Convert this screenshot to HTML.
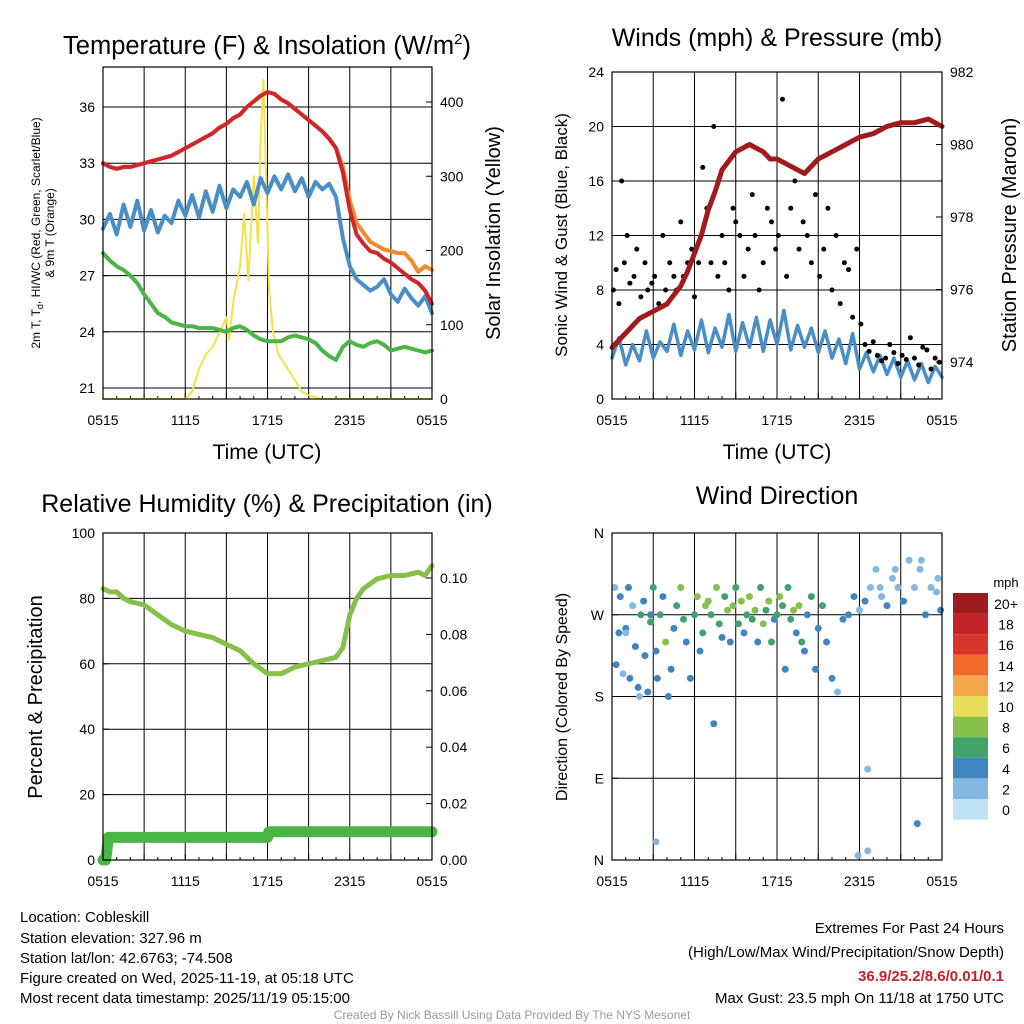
<!DOCTYPE html>
<html><head><meta charset="utf-8"><style>
body{margin:0;background:#fff;}
svg{display:block;font-family:"Liberation Sans",sans-serif;}
</style></head><body>
<svg id="s" width="1024" height="1024" viewBox="0 0 1024 1024" xmlns="http://www.w3.org/2000/svg">
<g id="g"></g>
<text x="267" y="54" font-size="25.5" text-anchor="middle">Temperature (F) &amp; Insolation (W/m<tspan font-size="15" dy="-10">2</tspan><tspan dy="10">)</tspan></text>
<text x="777" y="46" font-size="25" text-anchor="middle">Winds (mph) &amp; Pressure (mb)</text>
<text x="267" y="512" font-size="25" text-anchor="middle">Relative Humidity (%) &amp; Precipitation (in)</text>
<text x="777" y="504" font-size="25" text-anchor="middle">Wind Direction</text>
<text x="267" y="459" font-size="21" text-anchor="middle">Time (UTC)</text>
<text x="777" y="459" font-size="21" text-anchor="middle">Time (UTC)</text>
<text transform="translate(40,233) rotate(-90)" font-size="12" text-anchor="middle">2m T, T<tspan font-size="9" dy="3">d</tspan><tspan dy="-3">, HI/WC (Red, Green, Scarlet/Blue)</tspan></text>
<text transform="translate(54,233) rotate(-90)" font-size="12" text-anchor="middle">&amp; 9m T (Orange)</text>
<text transform="translate(500,233) rotate(-90)" font-size="20" text-anchor="middle">Solar Insolation (Yellow)</text>
<text transform="translate(567,235) rotate(-90)" font-size="17" text-anchor="middle">Sonic Wind &amp; Gust (Blue, Black)</text>
<text transform="translate(1016,235) rotate(-90)" font-size="20" text-anchor="middle">Station Pressure (Maroon)</text>
<text transform="translate(42,697) rotate(-90)" font-size="20" text-anchor="middle">Percent &amp; Precipitation</text>
<text transform="translate(567,697) rotate(-90)" font-size="16" text-anchor="middle">Direction (Colored By Speed)</text>
<g font-size="15">
<text x="20" y="922">Location: Cobleskill</text>
<text x="20" y="943">Station elevation: 327.96 m</text>
<text x="20" y="963">Station lat/lon: 42.6763; -74.508</text>
<text x="20" y="983">Figure created on Wed, 2025-11-19, at 05:18 UTC</text>
<text x="20" y="1003">Most recent data timestamp: 2025/11/19 05:15:00</text>
</g>
<g font-size="15" text-anchor="end">
<text x="1004" y="933">Extremes For Past 24 Hours</text>
<text x="1004" y="957">(High/Low/Max Wind/Precipitation/Snow Depth)</text>
<text x="1004" y="981" fill="#c8202a" font-weight="bold">36.9/25.2/8.6/0.01/0.1</text>
<text x="1004" y="1003">Max Gust: 23.5 mph On 11/18 at 1750 UTC</text>
</g>
<text x="512" y="1019" font-size="12" fill="#999" text-anchor="middle">Created By Nick Bassill Using Data Provided By The NYS Mesonet</text>
</svg>
<script>
const xTickLabels=["0515","1115","1715","2315","0515"];
const tempTicks=[21,24,27,30,33,36];
const solarTicks=[0,100,200,300,400];
const windTicks=[0,4,8,12,16,20,24];
const presTicks=[974,976,978,980,982];
const rhTicks=[0,20,40,60,80,100];
const precTicks=[0.00,0.02,0.04,0.06,0.08,0.10];
const dirLabels=["N","E","S","W","N"];
const hoursT=[0,0.5,1,1.5,2,2.5,3,3.5,4,4.5,5,5.5,6,6.5,7,7.5,8,8.5,9,9.5,10,10.5,11,11.5,12,12.5,13,13.5,14,14.5,15,15.5,16,16.5,17,17.5,18,18.5,19,19.5,20,20.5,21,21.5,22,22.5,23,23.5,24];
const tempRed=[33,32.8,32.7,32.8,32.8,32.9,33,33.1,33.2,33.3,33.4,33.6,33.8,34,34.2,34.4,34.6,34.9,35.1,35.4,35.6,36,36.3,36.6,36.8,36.7,36.4,36.2,35.9,35.6,35.3,35,34.7,34.3,33.8,32.5,30.5,29.2,28.7,28.3,28.2,27.9,27.7,27.4,27.1,26.8,26.6,26.2,25.5];
const tempOrange=[33,32.8,32.7,32.8,32.8,32.9,33,33.1,33.2,33.3,33.4,33.6,33.8,34,34.2,34.4,34.6,34.9,35.1,35.4,35.6,36,36.3,36.6,36.8,36.7,36.4,36.2,35.9,35.6,35.3,35,34.7,34.3,33.8,32.8,31,29.8,29.3,28.8,28.6,28.4,28.3,28.2,28.2,27.8,27.2,27.5,27.3];
const tempBlue=[29.5,30.3,29.2,30.8,29.6,31,29.4,30.5,29.3,30.2,29.8,31,30.2,31.3,30.1,31.5,30.4,31.8,30.6,31.6,31.2,32,30.8,32.2,31.4,32.3,31.6,32.4,31.5,32.2,31.2,32,31.6,31.9,31.2,29,27.5,26.8,26.5,26.2,26.4,26.8,26,25.6,26.3,25.8,25.4,25.9,25];
const tempGreen=[28.2,27.8,27.5,27.3,27,26.6,26,25.5,25,24.8,24.5,24.4,24.3,24.3,24.2,24.2,24.2,24.1,24,24.2,24.3,24.1,23.8,23.6,23.5,23.5,23.5,23.7,23.8,23.7,23.6,23.4,23,22.7,22.5,23.2,23.5,23.3,23.2,23.4,23.5,23.3,23,23.1,23.2,23.1,23,22.9,23];
const hoursS=[0,6,6.5,7,7.5,8,8.5,9,9.2,9.5,10,10.3,10.6,11,11.3,11.5,11.7,11.9,12.1,12.4,12.8,13.5,14,14.5,15,16,17,24];
const solar=[0,0,10,40,60,70,90,110,80,130,180,250,160,300,210,350,430,300,150,90,60,40,25,10,5,0,0,0];
const hoursP=[0,1,2,3,4,5,5.5,6,6.5,7,7.5,8,9,10,11,11.5,12,13,14,15,16,17,18,19,20,21,22,23,24];
const pres=[974.4,974.8,975.2,975.4,975.6,976.1,976.5,977,977.5,978.2,978.7,979.3,979.8,980,979.8,979.6,979.6,979.4,979.2,979.6,979.8,980,980.2,980.3,980.5,980.6,980.6,980.7,980.5];
const hoursW=[0,0.5,1,1.5,2,2.5,3,3.5,4,4.5,5,5.5,6,6.5,7,7.5,8,8.5,9,9.5,10,10.5,11,11.5,12,12.5,13,13.5,14,14.5,15,15.5,16,16.5,17,17.5,18,18.5,19,19.5,20,20.5,21,21.5,22,22.5,23,23.5,24];
const sonic=[3,4.5,2.5,4,2.8,5,3,4.2,3.5,5.5,3.2,5,3.6,5.8,3.4,5.2,3.8,6.2,3.5,5.6,3.8,6,3.5,5.8,4,6.5,3.6,5.4,3.8,5.2,3.4,5,3,4.4,2.6,4.8,2.2,3.4,2,3.2,1.8,3,1.6,2.8,1.4,2.6,1.2,2.4,1.6];
const gustH=[0.1,0.3,0.5,0.7,0.9,1.1,1.3,1.6,1.8,2.1,2.4,2.6,2.9,3.1,3.4,3.7,3.9,4.2,4.5,4.7,5,5.2,5.5,5.8,6,6.3,6.6,6.9,7.2,7.4,7.7,8,8.2,8.5,8.8,9,9.3,9.6,9.9,10.2,10.4,10.7,11,11.3,11.6,11.9,12.1,12.4,12.7,13,13.3,13.6,13.9,14.2,14.5,14.8,15.1,15.4,15.7,16,16.3,16.6,16.9,17.2,17.5,17.8,18.1,18.4,18.7,19,19.3,19.6,19.9,20.2,20.5,20.8,21.1,21.4,21.7,22,22.3,22.6,22.9,23.2,23.5,23.8];
const gust=[8,9.5,7,16,10,12,8.5,9,11,7.5,10,8,8.5,9,7,12,8,10,9,8,13,9,10,11,7.5,10,17,14,10,20,9,12,10,8,14,13,12,9,11,15,12,8,10,14,13,11,12,22,9,14,16,11,13,12,10,15,9,11,14,8,12,7,10,9.5,6,11,5.5,4,3.5,4.2,3.2,2.8,3,4,3.4,2.6,3.2,2.9,4.5,3,2.5,3.8,3.6,2.2,3,2.7];
const hoursRH=[0,0.5,1,1.5,2,3,4,5,6,7,8,9,10,11,12,13,14,15,16,17,17.5,18,18.5,19,20,21,22,23,23.5,24];
const rh=[83,82,82,80,79,78,75,72,70,69,68,66,64,60,57,57,59,60,61,62,65,75,80,83,86,87,87,88,87,90];
const hoursPr=[0,0.2,0.4,12,12.1,24];
const precip=[0,0,0.008,0.008,0.01,0.01];
const dirH=[0.2,0.3,0.5,0.6,0.8,1,1.2,1.3,1.5,1.7,1.9,2.1,2.3,2.4,2.6,2.8,3,3.2,3.3,3.5,3.7,3.9,4.1,4.3,4.5,4.7,5,5.2,5.4,5.7,6,6.2,6.4,6.6,6.8,7,7.2,7.4,7.6,7.8,8,8.2,8.4,8.6,8.8,9,9.2,9.4,9.6,9.8,10,10.2,10.4,10.6,10.8,11,11.2,11.4,11.6,11.8,12,12.2,12.4,12.6,12.8,13,13.2,13.4,13.6,13.8,14,14.2,14.5,14.8,15,15.3,15.6,16,16.4,16.8,17.2,17.6,18,18.4,18.8,19.2,19.6,20,20.4,20.8,21.2,21.6,22,22.4,22.8,23.2,23.6,23.9,17.9,18.6,19.5,20.6,22.5,23.7,2.8,3.2,18.6,22.2,1.0,2.0];
const dirDeg=[300,215,250,290,205,255,300,200,280,235,190,270,285,225,185,262,300,230,200,270,290,240,180,210,255,280,300,265,240,200,270,290,230,250,280,285,270,150,300,260,245,290,275,240,280,300,260,285,250,270,290,265,275,240,300,260,275,285,240,265,270,290,280,210,300,265,275,250,280,240,230,270,290,210,255,280,240,200,185,265,270,290,275,285,300,320,290,280,310,300,285,330,300,320,270,300,295,275,5,100,300,320,330,310,270,20,10,40,250,180,200,240];
const dirSpd=[2,3,3,4,2,3,4,4,2,3,3,5,4,3,4,6,5,4,3,5,4,7,4,3,4,6,7,5,3,4,6,7,4,5,7,8,6,4,7,5,4,6,8,4,7,6,5,8,4,6,7,5,8,4,6,7,5,8,6,4,5,7,6,4,5,6,8,4,7,5,3,4,6,4,4,5,4,3,2,3,4,3,2,3,1,1,2,3,1,2,3,1,2,2,3,1,2,3,1,2,1,1,2,2,3,1,2,3,2,1,3,2];
const cbColors=["#9b1b1e","#c2242a","#d8342c","#ef6a2c","#f5a54a","#e6de58","#86c04a","#42a36a","#3f86c0","#84b8e2","#bfe3f6"];
const cbLabels=["20+","18","16","14","12","10","8","6","4","2","0"];

const NS="http://www.w3.org/2000/svg";
const G=document.getElementById('g');
function el(t,a,p){const e=document.createElementNS(NS,t);for(const k in a)e.setAttribute(k,a[k]);(p||G).appendChild(e);return e;}
function txt(x,y,s,fs,anc,p){const e=el('text',{x:x,y:y,'font-size':fs,'text-anchor':anc},p);e.textContent=s;return e;}
function xs(b){return h=>b.x0+h*(b.x1-b.x0)/24;}
function frame(b,name){
  const g=el('g',{});
  
  
  for(let i=1;i<8;i++){const x=b.x0+i*(b.x1-b.x0)/8;el('line',{x1:x,x2:x,y1:b.y0,y2:b.y1,stroke:'#000','stroke-width':1},g);}
  const X=xs(b);
  xTickLabels.forEach((s,i)=>{const t=txt(b.x0+i*(b.x1-b.x0)/4,b.y1+26,s,14,'middle',g);});
  for(let i=0;i<=24;i++){const x=X(i);el('line',{x1:x,x2:x,y1:b.y1,y2:b.y1-(i%3?3:6),stroke:'#000'},g);}
  return g;
}
function border(b){el('rect',{x:b.x0,y:b.y0,width:b.x1-b.x0,height:b.y1-b.y0,fill:'none',stroke:'#000','stroke-width':1.2});}
function ylabels(b,vals,Y,lbl,left,grid,name){vals.forEach((v,i)=>{const y=Y(v);if(grid)el('line',{x1:b.x0,x2:b.x1,y1:y,y2:y,stroke:'#000'});
 el('line',{x1:left?b.x0:b.x1,x2:left?b.x0+6:b.x1-6,y1:y,y2:y,stroke:'#000'});
 const t=txt(left?b.x0-8:b.x1+8,y+5,lbl(v,i),14,left?'end':'start');});}
function line(H,V,X,Y,col,w,name){let d='';H.forEach((h,i)=>{d+=(i?'L':'M')+X(h).toFixed(1)+','+Y(V[i]).toFixed(1);});const p=el('path',{d:d,fill:'none',stroke:col,'stroke-width':w,'stroke-linejoin':'round','stroke-linecap':'round'});return p;}

// Panel 1
const b1={x0:103,x1:432,y0:67,y1:399};
frame(b1,'temp-panel');
const X1=xs(b1),Y1=v=>388-(v-21)*(388-107)/15,S1=v=>399-v*(399-102)/400;
ylabels(b1,tempTicks,Y1,v=>v,true,true,'temp-tick-label');
ylabels(b1,solarTicks,S1,v=>v,false,false,'solar-tick-label');
line(hoursS,solar,X1,S1,'#f5e04a',2,'solar-line');
line(hoursT,tempGreen,X1,Y1,'#4ab544',4,'dewpoint-line');
line(hoursT,tempBlue,X1,Y1,'#4a8ec8',4,'windchill-line');
line(hoursT,tempOrange,X1,Y1,'#f08a2c',4,'temp-9m-line');
line(hoursT,tempRed,X1,Y1,'#d0262a',4,'temp-2m-line');
border(b1);

// Panel 2
const b2={x0:612,x1:942,y0:72,y1:399};
frame(b2,'wind-panel');
const X2=xs(b2),Y2=v=>399-v*(399-72)/24,P2=v=>72+(982-v)*(362-72)/8;
ylabels(b2,windTicks,Y2,v=>v,true,true,'wind-tick-label');
ylabels(b2,presTicks,P2,v=>v,false,false,'pres-tick-label');
line(hoursW,sonic,X2,Y2,'#4a8ec8',3.5,'sonic-wind-line');
gust.forEach((g,i)=>{if(gustH[i]===undefined)return;const c=el('circle',{cx:X2(gustH[i]),cy:Y2(g),r:2.5,fill:'#000'});});
line(hoursP,pres,X2,P2,'#a01c1c',5,'pressure-line');
border(b2);

// Panel 3
const b3={x0:103,x1:432,y0:533,y1:860};
frame(b3,'rh-panel');
const X3=xs(b3),Y3=v=>860-v*(860-533)/100,R3=v=>860-v*(860-578)/0.1;
ylabels(b3,rhTicks,Y3,v=>v,true,true,'rh-tick-label');
ylabels(b3,precTicks,R3,v=>v.toFixed(2),false,false,'precip-tick-label');
line(hoursRH,rh,X3,Y3,'#86c04a',5,'rh-line');
line(hoursPr,precip,X3,R3,'#4ab544',11,'precip-line');
border(b3);

// Panel 4
const b4={x0:612,x1:942,y0:533,y1:860};
frame(b4,'wdir-panel');
const X4=xs(b4),D4=v=>860-v*(860-533)/360;
ylabels(b4,[0,90,180,270,360],D4,(v,i)=>dirLabels[i],true,true,'dir-tick-label');
const nDir=Math.min(dirH.length,dirDeg.length,dirSpd.length);
for(let i=0;i<nDir;i++){const si=Math.max(0,Math.min(10,10-Math.round(dirSpd[i]/2)));const c=el('circle',{cx:X4(dirH[i]),cy:D4(dirDeg[i]),r:3.5,fill:cbColors[si]});}
border(b4);
// colorbar
const cb=el('g',{});


txt(1006,587,'mph',13,'middle',cb);
cbColors.forEach((c,i)=>{el('rect',{x:953,y:593+i*20.6,width:35,height:20.6,fill:c},cb);txt(1006,609+i*20.6,cbLabels[i],14,'middle',cb);});
</script>
</body></html>
